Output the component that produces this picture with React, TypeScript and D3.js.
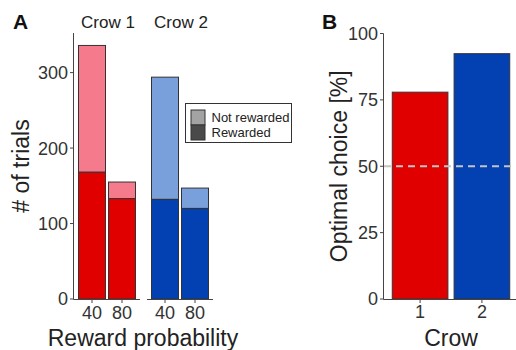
import { useEffect, useRef } from 'react';
import * as d3 from 'd3';

// Panel A data: trials per crow and reward probability
const crows = ['Crow 1', 'Crow 2'];
const probabilities = ['40', '80'];
const rewarded = [
    [168, 133],
    [132, 120],
];
const notRewarded = [
    [168, 22],
    [162, 27],
];
const countTicks = [0, 100, 200, 300];

// Panel B data: optimal choice per crow
const crowIds = ['1', '2'];
const optimalChoice = [77.9, 92.4];
const percentTicks = [0, 25, 50, 75, 100];

const colors = {
    rewarded: ['#e10000', '#0341b3'],
    notRewarded: ['#f57b8c', '#7aa0dc'],
};
const legendItems = [
    { label: 'Not rewarded', fill: '#a3a3a3' },
    { label: 'Rewarded', fill: '#4a4a4a' },
];

const FONT = '"Liberation Sans", Arial, Helvetica, sans-serif';
const AXIS = '#444';
const OUTLINE = '#333';

const App = () => {
    const svgRef = useRef<SVGSVGElement | null>(null);

    useEffect(() => {
        if (!svgRef.current) return;
        const svg = d3.select(svgRef.current);
        svg.selectAll('*').remove();
        svg.attr('font-family', FONT);

        const bottom = 299;

        // ---------- Panel A ----------
        const yA = d3.scaleLinear().domain([0, 352.5]).range([bottom, 33]);
        const panelX = [74, 147];
        const panelW = 66;

        const gA = svg.append('g');

        // y axis
        gA.append('line')
            .attr('x1', 73.5).attr('x2', 73.5)
            .attr('y1', yA(352.5)).attr('y2', bottom + 0.5)
            .attr('stroke', AXIS).attr('stroke-width', 1);

        gA.selectAll('.ytick')
            .data(countTicks)
            .enter()
            .append('line')
            .attr('x1', 70).attr('x2', 73.5)
            .attr('y1', d => yA(d)).attr('y2', d => yA(d))
            .attr('stroke', AXIS);

        gA.selectAll('.ylabel')
            .data(countTicks)
            .enter()
            .append('text')
            .attr('x', 68)
            .attr('y', d => yA(d))
            .attr('dy', '0.36em')
            .attr('text-anchor', 'end')
            .attr('font-size', '18px')
            .attr('fill', '#333')
            .text(d => d);

        gA.append('text')
            .attr('transform', `translate(29,${(33 + bottom) / 2}) rotate(-90)`)
            .attr('text-anchor', 'middle')
            .attr('font-size', '23px')
            .attr('fill', '#222')
            .text('# of trials');

        crows.forEach((crow, ci) => {
            const x = d3.scaleBand()
                .domain(probabilities)
                .range([panelX[ci], panelX[ci] + panelW])
                .paddingInner(0.1)
                .paddingOuter(0.15);

            const g = gA.append('g');

            // stacked bars
            probabilities.forEach((p, pi) => {
                const r = rewarded[ci][pi];
                const n = notRewarded[ci][pi];
                g.append('rect')
                    .attr('x', x(p)!)
                    .attr('width', x.bandwidth())
                    .attr('y', yA(r + n))
                    .attr('height', yA(r) - yA(r + n))
                    .attr('fill', colors.notRewarded[ci])
                    .attr('stroke', OUTLINE)
                    .attr('stroke-width', 1);
                g.append('rect')
                    .attr('x', x(p)!)
                    .attr('width', x.bandwidth())
                    .attr('y', yA(r))
                    .attr('height', yA(0) - yA(r))
                    .attr('fill', colors.rewarded[ci])
                    .attr('stroke', OUTLINE)
                    .attr('stroke-width', 1);
            });

            // x axis
            g.append('line')
                .attr('x1', ci === 0 ? 73.5 : panelX[ci]).attr('x2', panelX[ci] + panelW)
                .attr('y1', bottom + 0.5).attr('y2', bottom + 0.5)
                .attr('stroke', AXIS);

            g.selectAll('.xtick')
                .data(probabilities)
                .enter()
                .append('line')
                .attr('x1', d => x(d)! + x.bandwidth() / 2)
                .attr('x2', d => x(d)! + x.bandwidth() / 2)
                .attr('y1', bottom + 0.5).attr('y2', bottom + 4)
                .attr('stroke', AXIS);

            g.selectAll('.xlabel')
                .data(probabilities)
                .enter()
                .append('text')
                .attr('x', d => x(d)! + x.bandwidth() / 2)
                .attr('y', 319)
                .attr('text-anchor', 'middle')
                .attr('font-size', '18px')
                .attr('fill', '#333')
                .text(d => d);

            // facet strip
            g.append('text')
                .attr('x', panelX[ci] + panelW / 2 + 1)
                .attr('y', 28)
                .attr('text-anchor', 'middle')
                .attr('font-size', '17px')
                .attr('fill', '#222')
                .text(crow);
        });

        gA.append('text')
            .attr('x', 143)
            .attr('y', 345.5)
            .attr('text-anchor', 'middle')
            .attr('font-size', '23px')
            .attr('fill', '#222')
            .text('Reward probability');

        // legend
        const legend = gA.append('g').attr('transform', 'translate(185.5,103.5)');
        legend.append('rect')
            .attr('width', 106).attr('height', 39)
            .attr('fill', 'white')
            .attr('stroke', OUTLINE);
        legendItems.forEach((item, i) => {
            legend.append('rect')
                .attr('x', 5.5).attr('y', 6.5 + i * 15)
                .attr('width', 14).attr('height', 15)
                .attr('fill', item.fill)
                .attr('stroke', OUTLINE);
            legend.append('text')
                .attr('x', 26)
                .attr('y', 14 + i * 15)
                .attr('dy', '0.36em')
                .attr('font-size', '13px')
                .attr('fill', '#222')
                .text(item.label);
        });

        gA.append('text')
            .attr('x', 13)
            .attr('y', 29)
            .attr('font-size', '21px')
            .attr('font-weight', '700')
            .attr('fill', '#111')
            .text('A');

        // ---------- Panel B ----------
        const gB = svg.append('g');
        const yB = d3.scaleLinear().domain([0, 100]).range([bottom, 33.5]);
        const xB = d3.scaleBand()
            .domain(crowIds)
            .range([383, 519])
            .paddingInner(0.1)
            .paddingOuter(0.15);

        gB.selectAll('.bar')
            .data(crowIds)
            .enter()
            .append('rect')
            .attr('x', d => xB(d)!)
            .attr('width', xB.bandwidth())
            .attr('y', (d, i) => yB(optimalChoice[i]))
            .attr('height', (d, i) => yB(0) - yB(optimalChoice[i]))
            .attr('fill', (d, i) => colors.rewarded[i])
            .attr('stroke', OUTLINE)
            .attr('stroke-width', 1);

        // chance line
        gB.append('line')
            .attr('x1', 384).attr('x2', 519)
            .attr('y1', yB(50)).attr('y2', yB(50))
            .attr('stroke', '#c4c4c4')
            .attr('stroke-width', 2)
            .attr('stroke-dasharray', '7,5');

        gB.append('line')
            .attr('x1', 383.5).attr('x2', 383.5)
            .attr('y1', yB(100)).attr('y2', bottom + 0.5)
            .attr('stroke', AXIS);
        gB.append('line')
            .attr('x1', 383.5).attr('x2', 519)
            .attr('y1', bottom + 0.5).attr('y2', bottom + 0.5)
            .attr('stroke', AXIS);

        gB.selectAll('.ytick')
            .data(percentTicks)
            .enter()
            .append('line')
            .attr('x1', 380).attr('x2', 383.5)
            .attr('y1', d => yB(d)).attr('y2', d => yB(d))
            .attr('stroke', AXIS);

        gB.selectAll('.ylabel')
            .data(percentTicks)
            .enter()
            .append('text')
            .attr('x', 378)
            .attr('y', d => yB(d))
            .attr('dy', '0.36em')
            .attr('text-anchor', 'end')
            .attr('font-size', '18px')
            .attr('fill', '#333')
            .text(d => d);

        gB.selectAll('.xtick')
            .data(crowIds)
            .enter()
            .append('line')
            .attr('x1', d => xB(d)! + xB.bandwidth() / 2)
            .attr('x2', d => xB(d)! + xB.bandwidth() / 2)
            .attr('y1', bottom + 0.5).attr('y2', bottom + 4)
            .attr('stroke', AXIS);

        gB.selectAll('.xlabel')
            .data(crowIds)
            .enter()
            .append('text')
            .attr('x', d => xB(d)! + xB.bandwidth() / 2)
            .attr('y', 318)
            .attr('text-anchor', 'middle')
            .attr('font-size', '18px')
            .attr('fill', '#333')
            .text(d => d);

        gB.append('text')
            .attr('x', 451)
            .attr('y', 345.5)
            .attr('text-anchor', 'middle')
            .attr('font-size', '23px')
            .attr('fill', '#222')
            .text('Crow');

        gB.append('text')
            .attr('transform', `translate(347,${(33.5 + bottom) / 2}) rotate(-90)`)
            .attr('text-anchor', 'middle')
            .attr('font-size', '23px')
            .attr('fill', '#222')
            .text('Optimal choice [%]');

        gB.append('text')
            .attr('x', 322)
            .attr('y', 29)
            .attr('font-size', '21px')
            .attr('font-weight', '700')
            .attr('fill', '#111')
            .text('B');
    }, []);

    return (
        <div style={{ position: 'fixed', left: 0, top: 0 }}>
            <svg ref={svgRef} width={516} height={350} style={{ display: 'block', background: 'white' }}></svg>
        </div>
    );
};

export default App;
